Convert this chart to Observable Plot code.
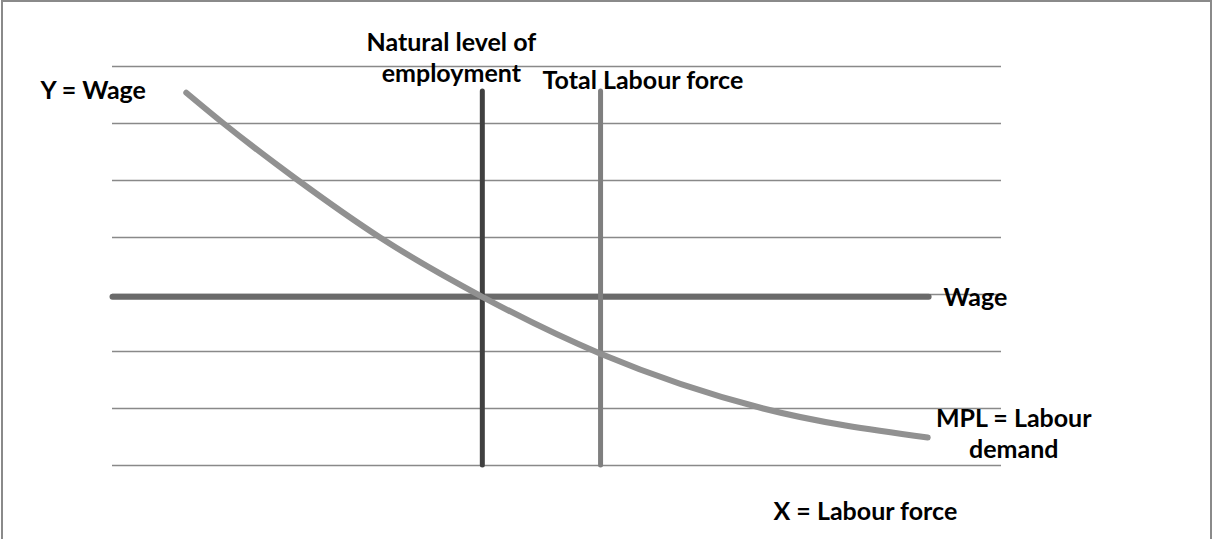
<!DOCTYPE html>
<html>
<head>
<meta charset="utf-8">
<script src="https://cdn.jsdelivr.net/npm/d3@7"></script>
<script src="https://cdn.jsdelivr.net/npm/@observablehq/plot@0.6"></script>
<style>
  html, body { margin: 0; padding: 0; background: #fff; }
  #wrap { position: relative; width: 1212px; height: 539px; overflow: hidden; }
  #border { position: absolute; left: 1px; top: 0px; width: 1211px; height: 600px; box-sizing: border-box; border: 2px solid #8a8a8a; pointer-events: none; }
  svg { display: block; }
</style>
</head>
<body>
<div id="wrap"><div id="chart"></div><div id="border"></div></div>
<script>
// ---- data ----
const gridLevels = [0, 1, 2, 3, 4, 5, 6, 7];
const mplX = [0.83, 1.25, 2.09, 3.01, 4.16, 5.49, 7.32, 9.17];
const mplY = [6.54, 6.00, 5.00, 4.00, 2.96, 1.96, 1.00, 0.49];
const wageLevel = 2.96;
const wageX = [0, 9.18];
const naturalEmployment = 4.16;
const totalLabourForce = 5.49;
const verticalRange = [0, 6.56];
const labelYAxis = "Y = Wage";
const labelXAxis = "X = Labour force";
const labelNatural = "Natural level of\nemployment";
const labelTotal = "Total Labour force";
const labelWage = "Wage";
const labelMPL = "MPL = Labour\ndemand";

// ---- build ----
const mpl = mplX.map((x, i) => ({x, y: mplY[i]}));
const wage = wageX.map(x => ({x, y: wageLevel}));
const font = "Lato, 'Open Sans', sans-serif";
const fs = 25;
const textBase = {fontFamily: font, fontSize: fs, fontWeight: "bold", fill: "#000", lineAnchor: "bottom", lineHeight: 31 / fs};

const chart = Plot.plot({
  width: 1212,
  height: 539,
  marginLeft: 112,
  marginRight: 211,
  marginTop: 66,
  marginBottom: 74,
  x: {domain: [0, 10], axis: null},
  y: {domain: [0, 7], axis: null},
  style: {background: "transparent", overflow: "visible"},
  marks: [
    Plot.ruleY(gridLevels, {stroke: "#898989", strokeWidth: 1.3}),
    Plot.line(wage, {x: "x", y: "y", stroke: "#6a6a6a", strokeWidth: 6, strokeLinecap: "round"}),
    Plot.ruleX([naturalEmployment], {y1: verticalRange[0], y2: verticalRange[1], stroke: "#404040", strokeWidth: 5, strokeLinecap: "round"}),
    Plot.ruleX([totalLabourForce], {y1: verticalRange[0], y2: verticalRange[1], stroke: "#7f7f7f", strokeWidth: 5, strokeLinecap: "round"}),
    Plot.line(mpl, {x: "x", y: "y", curve: "monotone-x", stroke: "#919191", strokeWidth: 6, strokeLinecap: "round"}),
    Plot.text([labelNatural], {...textBase, text: d => d, x: naturalEmployment, y: verticalRange[1], textAnchor: "middle", dx: -31, dy: -10}),
    Plot.text([labelTotal], {...textBase, text: d => d, x: totalLabourForce, y: verticalRange[1], textAnchor: "start", dx: -58, dy: -3}),
    Plot.text([labelWage], {...textBase, text: d => d, x: wageX[1], y: wageLevel, textAnchor: "start", dx: 15, dy: 9}),
    Plot.text([labelMPL], {...textBase, text: d => d, x: mplX[mplX.length - 1], y: mplY[mplY.length - 1], textAnchor: "middle", dx: 86, dy: 20}),
    Plot.text([labelYAxis], {...textBase, text: d => d, frameAnchor: "top-left", textAnchor: "start", dx: -72, dy: 32}),
    Plot.text([labelXAxis], {...textBase, text: d => d, frameAnchor: "bottom-right", textAnchor: "start", dx: -228, dy: 54})
  ]
});
document.getElementById("chart").appendChild(chart);
</script>
</body>
</html>
